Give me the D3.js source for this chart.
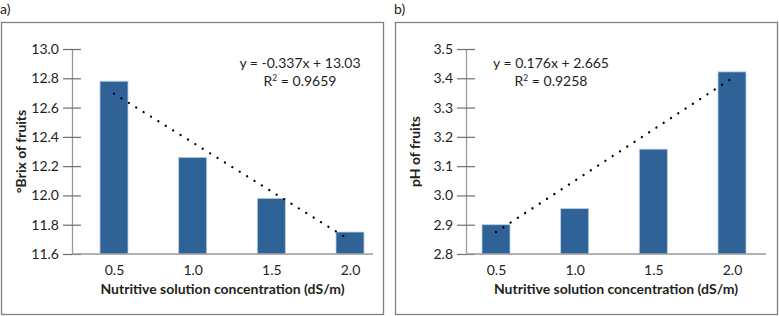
<!DOCTYPE html>
<html>
<head>
<meta charset="utf-8">
<script src="https://cdn.jsdelivr.net/npm/d3@7"></script>
<style>
  body { margin: 0; background: #fff; }
  svg { display: block; font-family: Lato, sans-serif; }
</style>
</head>
<body>
<div id="chart"></div>
<script>
// data
const concentrations = ['0.5', '1.0', '1.5', '2.0'];
const brixValues = [12.78, 12.26, 11.98, 11.75];
const phValues = [2.90, 2.955, 3.158, 3.422];
const brixTicks = [11.6, 11.8, 12.0, 12.2, 12.4, 12.6, 12.8, 13.0];
const phTicks = [2.8, 2.9, 3.0, 3.1, 3.2, 3.3, 3.4, 3.5];
// trend line ends (first and last category), as drawn
const brixTrend = [12.695, 11.695];
const phTrend = [2.875, 3.40];
const brixEquation = ['y = -0.337x + 13.03', '0.9659'];
const phEquation = ['y = 0.176x + 2.665', '0.9258'];

const W = 779, H = 316;
const FONT = 'Lato, sans-serif';
const svg = d3.select('#chart').append('svg').attr('width', W).attr('height', H);

const panels = [
  {
    label: 'a)', left: 1, yTitle: '°Brix of fruits', values: brixValues, ticks: brixTicks,
    trend: brixTrend, eq: brixEquation, axisX: 72, axisEnd: 373, c0: 114, c1: 350, eqX: 300,
  },
  {
    label: 'b)', left: 395, yTitle: 'pH of fruits', values: phValues, ticks: phTicks,
    trend: phTrend, eq: phEquation, axisX: 466, axisEnd: 766, c0: 496, c1: 732, eqX: 551,
  },
];

panels.forEach((p) => {
  const g = svg.append('g');

  // frame
  g.append('rect')
    .attr('x', p.left + 0.5).attr('y', 22.5)
    .attr('width', 382).attr('height', 292)
    .attr('fill', 'none').attr('stroke', '#808080').attr('stroke-width', 1.3);

  g.append('text').attr('x', p.left - 1).attr('y', 14)
    .attr('font-size', 14).attr('fill', '#231f20').text(p.label);

  const y = d3.scaleLinear().domain(d3.extent(p.ticks)).range([254, 49]);
  const x = d3.scalePoint().domain(concentrations).range([p.c0, p.c1]);
  const barW = 28;

  // y axis
  const yAxis = g.append('g').attr('transform', `translate(${p.axisX},0)`)
    .call(d3.axisLeft(y).tickValues(p.ticks).tickFormat(d3.format('.1f')).tickSize(0).tickPadding(13));
  yAxis.select('.domain').attr('stroke', '#9a9a9a').attr('stroke-width', 1.3);
  yAxis.selectAll('.tick').append('line')
    .attr('x1', -9).attr('x2', 9).attr('stroke', '#6d6d6d').attr('stroke-width', 1.2);
  yAxis.selectAll('text').attr('font-size', 14).attr('fill', '#231f20')
    .attr('font-family', FONT);

  // bars
  g.selectAll('rect.bar').data(p.values).enter().append('rect')
    .attr('class', 'bar')
    .attr('x', (d, i) => x(concentrations[i]) - barW / 2)
    .attr('y', (d) => y(d))
    .attr('width', barW)
    .attr('height', (d) => y(p.ticks[0]) - y(d))
    .attr('fill', '#2f6397')
    .attr('stroke', '#b9cde2').attr('stroke-width', 0.8);

  // x axis
  const xAxis = g.append('g').attr('transform', 'translate(0,254)')
    .call(d3.axisBottom(x).tickSize(0).tickPadding(11));
  xAxis.select('.domain').attr('d', `M${p.axisX},0H${p.axisEnd}`)
    .attr('stroke', '#9a9a9a').attr('stroke-width', 1.3);
  xAxis.selectAll('text').attr('font-size', 14).attr('fill', '#231f20')
    .attr('font-family', FONT);

  // dotted trend line
  g.append('line')
    .attr('x1', x(concentrations[0])).attr('y1', y(p.trend[0]))
    .attr('x2', x(concentrations[3])).attr('y2', y(p.trend[1]))
    .attr('stroke', '#000').attr('stroke-width', 2.2)
    .attr('stroke-linecap', 'round').attr('stroke-dasharray', '0.1 8.6');

  // equation
  g.append('text').attr('x', p.eqX).attr('y', 68).attr('text-anchor', 'middle')
    .attr('font-size', 14).attr('fill', '#231f20').text(p.eq[0]);
  const r2 = g.append('text').attr('x', p.eqX).attr('y', 86).attr('text-anchor', 'middle')
    .attr('font-size', 14).attr('fill', '#231f20');
  r2.append('tspan').text('R');
  r2.append('tspan').attr('font-size', 8.5).attr('dy', -5).text('2');
  r2.append('tspan').attr('dy', 5).text(' = ' + p.eq[1]);

  // axis titles
  g.append('text')
    .attr('transform', `translate(${p.left + 25},${(49 + 254) / 2}) rotate(-90)`)
    .attr('text-anchor', 'middle').attr('font-size', 14).attr('font-weight', 'bold')
    .attr('fill', '#231f20').text(p.yTitle);
  g.append('text').attr('x', (p.axisX + p.axisEnd) / 2).attr('y', 294)
    .attr('text-anchor', 'middle').attr('font-size', 14).attr('font-weight', 'bold')
    .attr('fill', '#231f20').text('Nutritive solution concentration (dS/m)');
});
</script>
</body>
</html>
